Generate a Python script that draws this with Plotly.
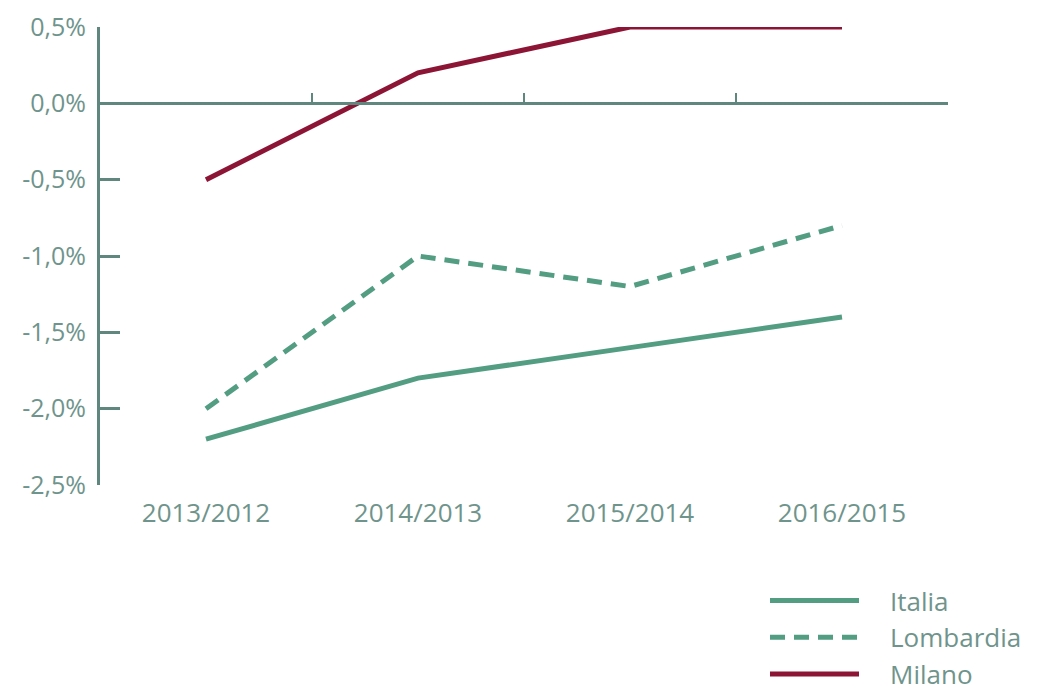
import plotly.graph_objects as go

# Variazione annua (%)
periodi = ["2013/2012", "2014/2013", "2015/2014", "2016/2015"]
italia = [-2.2, -1.8, -1.6, -1.4]
lombardia = [-2.0, -1.0, -1.2, -0.8]
milano = [-0.5, 0.2, 0.5, 0.5]

y_ticks = [0.5, 0.0, -0.5, -1.0, -1.5, -2.0, -2.5]
y_labels = ["0,5%", "0,0%", "-0,5%", "-1,0%", "-1,5%", "-2,0%", "-2,5%"]

VERDE = "#539d83"
ROSSO = "#8c1535"
ASSE = "#5f877e"
TESTO = "#6f948c"
FONT = "Open Sans, sans-serif"

# spacing between legend sample and its label
GAP = "\u2003"

x_pos = list(range(len(periodi)))

fig = go.Figure()
fig.add_trace(go.Scatter(x=x_pos, y=italia, name=GAP + "Italia", mode="lines",
                         line=dict(color=VERDE, width=5)))
fig.add_trace(go.Scatter(x=x_pos, y=lombardia, name=GAP + "Lombardia", mode="lines",
                         line=dict(color=VERDE, width=5, dash="15px,9px")))
fig.add_trace(go.Scatter(x=x_pos, y=milano, name=GAP + "Milano", mode="lines",
                         line=dict(color=ROSSO, width=5)))

fig.update_layout(
    width=1037, height=692,
    margin=dict(l=100, r=89, t=27, b=207, autoexpand=False),
    paper_bgcolor="white", plot_bgcolor="white",
    font=dict(family=FONT, color=TESTO, size=24),
    showlegend=True,
    legend=dict(
        x=765 / 1037, y=1 - 577 / 692, xanchor="left", yanchor="top",
        xref="container", yref="container",
        font=dict(size=26, color=TESTO, family=FONT),
        itemwidth=89, tracegroupgap=0,
        bgcolor="rgba(0,0,0,0)",
    ),
    xaxis=dict(
        range=[-0.5, 3.5], tickmode="array", tickvals=x_pos, ticktext=periodi,
        showline=False, showgrid=False, zeroline=False, ticks="",
        tickfont=dict(size=26, color=TESTO), ticklabelstandoff=10,
    ),
    xaxis2=dict(
        overlaying="x", matches="x", anchor="free", position=2.5 / 3.0,
        side="bottom", range=[-0.5, 3.5], tickmode="array",
        tickvals=[0.5, 1.5, 2.5, 3.5], ticks="inside", ticklen=9,
        tickwidth=2, tickcolor=ASSE, showticklabels=False,
        showline=True, linecolor=ASSE, linewidth=3, showgrid=False, zeroline=False,
    ),
    yaxis=dict(
        range=[-2.5, 0.5], tickmode="array", tickvals=y_ticks, ticktext=y_labels,
        showline=True, linecolor=ASSE, linewidth=3, ticks="inside",
        ticklen=20, tickwidth=3, tickcolor=ASSE, showgrid=False, zeroline=False,
        tickfont=dict(size=25, color=TESTO), ticklabelstandoff=6,
    ),
)
# Invisible carrier so the zero-line axis is rendered
fig.add_trace(go.Scatter(x=[], y=[], xaxis="x2", showlegend=False, hoverinfo="skip"))

fig.write_html("out.html")
